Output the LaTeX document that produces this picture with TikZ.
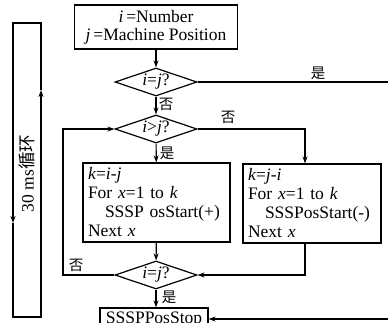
\documentclass[tikz,border=0pt]{standalone}
\usepackage{fontspec}
\setmainfont{Liberation Serif}
\newfontfamily\cjk{Noto Sans CJK SC}
\usetikzlibrary{arrows.meta,shapes.geometric}
\begin{document}
\begin{tikzpicture}[x=1pt,y=-1pt, line width=1.2pt,
  >={Stealth[length=7pt,width=5pt]},
  font=\fontsize{17.5}{18}\selectfont,
  box/.style={draw, rectangle, inner sep=0pt},
  dec/.style={draw, diamond, aspect=2.9, minimum width=82pt, minimum height=28pt, inner sep=0pt},
  lab/.style={font=\cjk\fontsize{14.5}{14.5}\selectfont, inner sep=0pt},
  code/.style={box, minimum height=79pt, align=left, inner xsep=5pt, font=\fontsize{17.5}{19}\selectfont}]
\useasboundingbox (0,0) rectangle (388,322);
\clip (0,0) rectangle (388,322);
% coordinates
\coordinate (colx) at (305,0);
\coordinate (r1) at (392,82);
\coordinate (stopR) at (392,319);
\coordinate (fb) at (63,275);
\coordinate (L1) at (13,23);
\coordinate (L2) at (41,23);
\coordinate (L3) at (41,317);
\coordinate (L4) at (13,317);
\coordinate (ua) at (41,90);
\coordinate (da) at (13,223);
% nodes
\node[box, minimum width=163pt, minimum height=44pt, align=center] (top) at (156,27)
  {\textit{i}\,=Number\\\textit{j}\,=Machine Position};
\node[dec] (d1) at (156,82) {\textit{i}=\textit{j}?};
\node[dec] (d2) at (156,129) {\textit{i}>\textit{j}?};
\node[dec] (d3) at (156,275) {\textit{i}=\textit{j}?};
\node[code, text width=137pt] (lbox) at (156.5,202.5)
  {\textit{k}=\textit{i}-\textit{j}\\For \textit{x}=1 to \textit{k}\\\hspace*{17pt}SSSP osStart(+)\\Next \textit{x}};
\node[code, text width=128pt] (rbox) at (312,203.5)
  {\textit{k}=\textit{j}-\textit{i}\\For \textit{x}=1 to \textit{k}\\\hspace*{17pt}SSSPosStart(-)\\Next \textit{x}};
\node[box, minimum width=108pt, minimum height=24pt] (stop) at (154,320) {\raisebox{2pt}{SSSPPosStop}};
\node[rotate=90, inner sep=0pt] (looplab) at (27,173.5) {30 ms{\cjk 循环}};
\node[lab] (y1) at (318,73) {是};
\node[lab] (n1) at (166,104) {否};
\node[lab] (n2) at (228,117) {否};
\node[lab] (y2) at (167,153) {是};
\node[lab] (n3) at (76,265) {否};
\node[lab] (y3) at (169,297) {是};
% connectors
\draw[->] (top) -- (d1);
\draw[->] (d1) -- (d2);
\draw[->] (d2) -- (lbox);
\draw[->] (lbox) -- (d3);
\draw[->] (d3.south) -- (d3.south |- stop.north);
\draw (d1.east) -- (r1);
\draw[->] (stopR) -- (stop.east |- stopR);
\draw[->] (d2.east) -| (rbox.north -| colx);
\draw[->] (rbox.south -| colx) |- (d3.east);
\draw[->] (d3.west) -- (fb) |- (d2.west);
% loop frame
\draw[->] (ua) -- (L2) -- (L1) -- (da);
\draw[->] (da) -- (L4) -- (L3) -- (ua);
\end{tikzpicture}
\end{document}
